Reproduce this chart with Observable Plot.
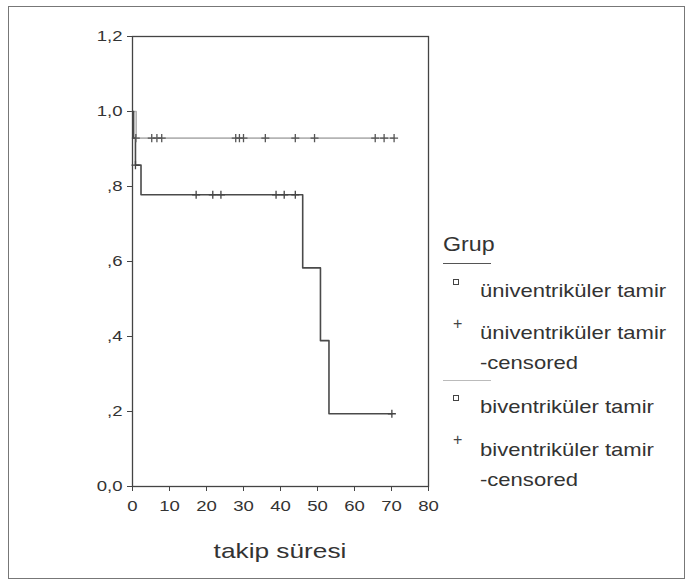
<!DOCTYPE html>
<html>
<head>
<meta charset="utf-8">
<script src="https://cdn.jsdelivr.net/npm/d3@7"></script>
<script src="https://cdn.jsdelivr.net/npm/@observablehq/plot@0.6"></script>
<style>
  html, body { margin: 0; padding: 0; background: #fff; }
  #wrap { position: relative; width: 696px; height: 581px; overflow: hidden; font-family: "Liberation Sans", Arial, sans-serif; color: #333; }
  #border { position: absolute; left: 8px; top: 6px; width: 677px; height: 573px; border: 1px solid #777; box-sizing: border-box; }
  #chart { position: absolute; left: 0; top: 0; }
  .lt { position: absolute; white-space: nowrap; font-size: 19px; line-height: 20px; transform: scaleX(1.16); transform-origin: 0 50%; color: #333; }
  .sep { position: absolute; height: 0; }
  .sq { position: absolute; width: 4px; height: 4px; border: 1px solid #444; }
  .pl { position: absolute; font-size: 16px; line-height: 16px; color: #444; }
  #xtitle { position: absolute; left: 280px; top: 539px; font-size: 21px; line-height: 24px; transform: translateX(-50%) scaleX(1.25); white-space: nowrap; color: #333; }
</style>
</head>
<body>
<div id="wrap">
  <div id="border"></div>
  <div id="chart"></div>
  <div id="xtitle">takip süresi</div>
  <div id="legend"></div>
</div>
<script>
// Survival steps (Kaplan-Meier)
const uniTime = [0, 0.3, 0.8, 2.3, 46.0, 50.8, 53.1, 70.1];
const uniSurv = [1.0, 0.929, 0.857, 0.778, 0.583, 0.389, 0.194, 0.194];
const biTime = [0, 1.0, 70.7];
const biSurv = [1.0, 0.929, 0.929];
// Censored observations
const uniCensTime = [0.8, 17.2, 21.7, 23.9, 38.8, 41.0, 44.0, 70.1];
const uniCensSurv = [0.857, 0.778, 0.778, 0.778, 0.778, 0.778, 0.778, 0.194];
const biCensTime = [0.9, 5.2, 6.6, 7.9, 27.9, 28.9, 30.0, 35.9, 44.0, 49.2, 65.6, 68.0, 70.7];
const biCensSurv = [0.929, 0.929, 0.929, 0.929, 0.929, 0.929, 0.929, 0.929, 0.929, 0.929, 0.929, 0.929, 0.929];
// Axes
const xTicks = [0, 10, 20, 30, 40, 50, 60, 70, 80];
const yTicks = [0, 0.2, 0.4, 0.6, 0.8, 1.0, 1.2];
const yTickLabels = ["0,0", ",2", ",4", ",6", ",8", "1,0", "1,2"];
// Legend
const legendTitle = "Grup";
const groupNames = ["üniventriküler tamir", "biventriküler tamir"];
const censoredSuffix = "-censored";

const uni = uniTime.map((t, i) => ({t, s: uniSurv[i]}));
const bi = biTime.map((t, i) => ({t, s: biSurv[i]}));
const uniC = uniCensTime.map((t, i) => ({t, s: uniCensSurv[i]}));
const biC = biCensTime.map((t, i) => ({t, s: biCensSurv[i]}));

const svg = Plot.plot({
  width: 696,
  height: 581,
  marginLeft: 132,
  marginRight: 268,
  marginTop: 36,
  marginBottom: 95,
  style: {background: "transparent", fontFamily: "'Liberation Sans', Arial, sans-serif", fontSize: "14.5px", color: "#333"},
  x: {domain: [0, 80], ticks: xTicks, tickSize: 5, tickPadding: 9, label: null},
  y: {domain: [0, 1.2], ticks: yTicks, tickSize: 5, tickPadding: 5, label: null,
      tickFormat: d => yTickLabels[yTicks.indexOf(d)]},
  marks: [
    Plot.line(bi, {x: "t", y: "s", curve: "step-after", stroke: "#b4b4b4", strokeWidth: 1.6}),
    Plot.line(uni, {x: "t", y: "s", curve: "step-after", stroke: "#4a4a4a", strokeWidth: 1.6}),
    Plot.dot(biC, {x: "t", y: "s", symbol: "plus", r: 2.7, stroke: "#555", strokeWidth: 1.3}),
    Plot.dot(uniC, {x: "t", y: "s", symbol: "plus", r: 2.7, stroke: "#444", strokeWidth: 1.3}),
    Plot.frame({stroke: "#444", strokeWidth: 1.3})
  ]
});
document.getElementById("chart").appendChild(svg);

// Stretch tick labels horizontally to match the reference proportions
svg.querySelectorAll('g[aria-label="y-axis tick label"] text, g[aria-label="x-axis tick label"] text').forEach(el => {
  const tr = el.getAttribute("transform") || "";
  el.setAttribute("transform", tr + " scale(1.28,1)");
});
svg.querySelectorAll('g[aria-label="y-axis tick"], g[aria-label="x-axis tick"]').forEach(g => g.setAttribute("stroke", "#444"));

// Legend
const lg = document.getElementById("legend");
function add(html) { lg.insertAdjacentHTML("beforeend", html); }
add(`<div class="lt" style="left:443px;top:233px;font-size:20px;line-height:22px;">${legendTitle}</div>`);
add(`<div class="sep" style="left:443px;top:263px;width:48px;border-top:1.5px solid #555;"></div>`);
add(`<div class="sq" style="left:453px;top:279px;"></div>`);
add(`<div class="lt" style="left:480px;top:281px;">${groupNames[0]}</div>`);
add(`<div class="pl" style="left:453px;top:316px;">+</div>`);
add(`<div class="lt" style="left:480px;top:323px;">${groupNames[0]}</div>`);
add(`<div class="lt" style="left:480px;top:353px;">${censoredSuffix}</div>`);
add(`<div class="sep" style="left:443px;top:380px;width:48px;border-top:1.5px solid #bbb;"></div>`);
add(`<div class="sq" style="left:453px;top:395px;"></div>`);
add(`<div class="lt" style="left:480px;top:397px;">${groupNames[1]}</div>`);
add(`<div class="pl" style="left:453px;top:432px;">+</div>`);
add(`<div class="lt" style="left:480px;top:440px;">${groupNames[1]}</div>`);
add(`<div class="lt" style="left:480px;top:470px;">${censoredSuffix}</div>`);
</script>
</body>
</html>
